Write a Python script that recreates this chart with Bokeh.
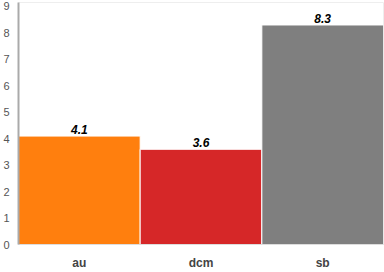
from bokeh.plotting import figure
from bokeh.models import ColumnDataSource, FixedTicker, Range1d, LabelSet
from bokeh.core.properties import value
from bokeh.embed import file_html
from bokeh.resources import INLINE

categories = ["au", "dcm", "sb"]
values = [4.1, 3.6, 8.3]
colors = ["#ff7f0e", "#d62728", "#7f7f7f"]
labels = ["4.1", "3.6", "8.3"]

src = ColumnDataSource(dict(cat=categories, val=values, col=colors, lab=labels))

p = figure(x_range=categories, y_range=Range1d(0, 9.15), width=384, height=272,
           output_backend="svg", toolbar_location=None,
           min_border_left=18, min_border_right=1, min_border_top=2, min_border_bottom=25)
p.x_range.range_padding = 0
p.vbar(x="cat", top="val", width=1.0, fill_color="col", line_color="white", line_width=1, source=src)

lbl = LabelSet(x="cat", y="val", text="lab", source=src, text_align="center", text_baseline="bottom",
               y_offset=2, text_font_size=value("12px"), text_font_style=value("bold italic"),
               text_color=value("black"), text_font=value("Liberation Sans"))
p.add_layout(lbl)

p.grid.visible = False
p.outline_line_color = "#eeeeee"
p.yaxis.ticker = FixedTicker(ticks=list(range(0, 10)))
p.yaxis.major_tick_line_color = None
p.yaxis.minor_tick_line_color = None
p.yaxis.axis_line_color = "#aaaaaa"
p.yaxis.axis_line_width = 2
p.yaxis.major_label_text_font_size = "11px"
p.yaxis.major_label_text_color = "#555555"
p.yaxis.major_label_text_font = "Liberation Sans"
p.yaxis.major_label_standoff = 3
p.xaxis.major_tick_line_color = None
p.xaxis.minor_tick_line_color = None
p.xaxis.axis_line_color = "#dddddd"
p.xaxis.major_label_text_font_size = "12px"
p.xaxis.major_label_text_font_style = "bold"
p.xaxis.major_label_text_color = "#444444"
p.xaxis.major_label_text_font = "Liberation Sans"
p.xaxis.major_label_standoff = 5

open("out.html", "w").write(file_html(p, INLINE))
